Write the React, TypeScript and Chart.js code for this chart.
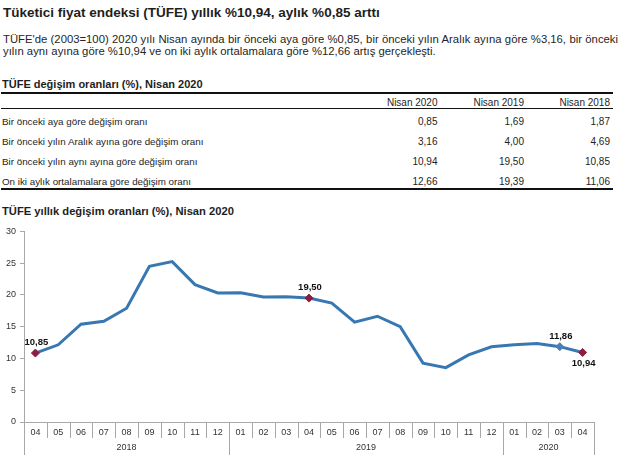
import React, { useEffect, useRef } from "react";
import { Chart, registerables } from "chart.js";

Chart.register(...registerables);

// ---------- DATA ----------
const pageTitle = "Tüketici fiyat endeksi (TÜFE) yıllık %10,94, aylık %0,85 arttı";
const paragraphLine1 =
  "TÜFE'de (2003=100) 2020 yılı Nisan ayında bir önceki aya göre %0,85, bir önceki yılın Aralık ayına göre %3,16, bir önceki";
const paragraphLine2 =
  "yılın aynı ayına göre %10,94 ve on iki aylık ortalamalara göre %12,66 artış gerçekleşti.";

const tableTitle = "TÜFE değişim oranları (%), Nisan 2020";
const tableColumns = ["Nisan 2020", "Nisan 2019", "Nisan 2018"];
const tableRowLabels = [
  "Bir önceki aya göre değişim oranı",
  "Bir önceki yılın Aralık ayına göre değişim oranı",
  "Bir önceki yılın aynı ayına göre değişim oranı",
  "On iki aylık ortalamalara göre değişim oranı",
];
const monthlyChange = ["0,85", "1,69", "1,87"];
const decemberChange = ["3,16", "4,00", "4,69"];
const annualChange = ["10,94", "19,50", "10,85"];
const averageChange = ["12,66", "19,39", "11,06"];
const tableValues = [monthlyChange, decemberChange, annualChange, averageChange];

const chartTitle = "TÜFE yıllık değişim oranları (%), Nisan 2020";
const months = [
  "04", "05", "06", "07", "08", "09", "10", "11", "12",
  "01", "02", "03", "04", "05", "06", "07", "08", "09", "10", "11", "12",
  "01", "02", "03", "04",
];
const years = ["2018", "2019", "2020"];
const annualRates = [
  10.85, 12.15, 15.39, 15.85, 17.9, 24.52, 25.24, 21.62, 20.3,
  20.35, 19.67, 19.71, 19.5, 18.71, 15.72, 16.65, 15.01, 9.26, 8.55, 10.56, 11.84,
  12.15, 12.37, 11.86, 10.94,
];
const yTicks = [0, 5, 10, 15, 20, 25, 30];
const redMarkIndices = [0, 12, 24];
const blueMarkIndices = [23];
const labelAbove = [0, 12, 23];
const labelBelow = [24];

// ---------- STYLE ----------
const FONT = "'Liberation Sans', Arial, Helvetica, sans-serif";
const LINE_COLOR = "#3778b3";
const RED_MARK = "#8c1d40";
const BLUE_MARK = "#4a80b8";
const AXIS_COLOR = "#a8a8a8";
const TEXT_COLOR = "#1e1e1e";

const fmt = (v: number) => v.toFixed(2).replace(".", ",");

const multiAxisPlugin = {
  id: "multiAxis",
  afterDraw(chart: any) {
    const { ctx, chartArea } = chart;
    const x = chart.scales.x;
    const bottom = chartArea.bottom;
    const n = months.length;
    const half = (x.getPixelForValue(1) - x.getPixelForValue(0)) / 2;
    ctx.save();
    ctx.strokeStyle = AXIS_COLOR;
    ctx.lineWidth = 1;
    const groupStarts: number[] = [];
    for (let i = 0; i <= n; i++) {
      const px = i < n ? x.getPixelForValue(i) - half : x.getPixelForValue(n - 1) + half;
      const isYear = i === 0 || i === n || months[i] === "01";
      if (i < n && isYear) groupStarts.push(i);
      const xx = Math.round(px) + 0.5;
      ctx.beginPath();
      ctx.moveTo(xx, bottom);
      ctx.lineTo(xx, bottom + (isYear ? 33 : 16));
      ctx.stroke();
    }
    ctx.fillStyle = "#333";
    ctx.font = `9px ${FONT}`;
    ctx.textAlign = "center";
    ctx.textBaseline = "middle";
    groupStarts.forEach((s, g) => {
      const e = g + 1 < groupStarts.length ? groupStarts[g + 1] - 1 : n - 1;
      const cx = (x.getPixelForValue(s) + x.getPixelForValue(e)) / 2;
      ctx.fillText(years[g], cx, bottom + 26);
    });
    ctx.restore();
  },
  afterDatasetsDraw(chart: any) {
    const { ctx } = chart;
    const meta = chart.getDatasetMeta(0);
    ctx.save();
    ctx.fillStyle = "#111";
    ctx.font = `bold 9.5px ${FONT}`;
    ctx.textAlign = "center";
    ctx.textBaseline = "middle";
    labelAbove.forEach((i) => {
      const p = meta.data[i];
      ctx.fillText(fmt(annualRates[i]), p.x + 1, p.y - 10.5);
    });
    labelBelow.forEach((i) => {
      const p = meta.data[i];
      ctx.fillText(fmt(annualRates[i]), p.x + 1, p.y + 10.5);
    });
    ctx.restore();
  },
};

function LineChart() {
  const ref = useRef<HTMLCanvasElement | null>(null);
  useEffect(() => {
    if (!ref.current) return;
    const n = annualRates.length;
    const radii = annualRates.map((_, i) =>
      redMarkIndices.includes(i) || blueMarkIndices.includes(i) ? 4 : 0
    );
    const colors = annualRates.map((_, i) =>
      redMarkIndices.includes(i) ? RED_MARK : BLUE_MARK
    );
    const chart = new Chart(ref.current, {
      type: "line",
      data: {
        labels: months,
        datasets: [
          {
            data: annualRates,
            borderColor: LINE_COLOR,
            borderWidth: 3,
            tension: 0,
            pointStyle: "rectRot",
            pointRadius: radii,
            pointBackgroundColor: colors,
            pointBorderColor: colors,
            pointBorderWidth: 1,
            pointHoverRadius: radii,
          },
        ],
      },
      options: {
        animation: false,
        responsive: false,
        events: [],
        layout: { padding: { top: 7.5, right: 46, left: 0, bottom: 0 } },
        plugins: { legend: { display: false }, tooltip: { enabled: false } },
        scales: {
          x: {
            type: "category",
            offset: true,
            grid: { display: false, drawTicks: false },
            border: { display: true, color: AXIS_COLOR, width: 1 },
            ticks: {
              autoSkip: false,
              maxRotation: 0,
              padding: 5.5,
              color: "#333",
              font: { size: 9, family: FONT },
            },
            afterFit: (s: any) => {
              s.height = 46;
            },
          },
          y: {
            min: 0,
            max: 30,
            afterBuildTicks: (s: any) => {
              s.ticks = yTicks.map((v) => ({ value: v }));
            },
            grid: { drawOnChartArea: false, drawTicks: true, tickLength: 4, color: AXIS_COLOR },
            border: { display: true, color: AXIS_COLOR, width: 1 },
            ticks: {
              padding: 4,
              color: "#333",
              font: { size: 9, family: FONT },
            },
            afterFit: (s: any) => {
              s.width = 24;
            },
          },
        },
      },
      plugins: [multiAxisPlugin],
    });
    return () => chart.destroy();
  }, []);
  return (
    <canvas
      ref={ref}
      width={640}
      height={246}
      style={{ position: "absolute", left: 0, top: 222, width: 640, height: 246 }}
    />
  );
}

const abs = (
  left: number,
  top: number,
  size: number,
  bold = false,
  extra: React.CSSProperties = {}
): React.CSSProperties => ({
  position: "absolute",
  left,
  top,
  fontFamily: FONT,
  fontSize: size,
  lineHeight: `${size}px`,
  fontWeight: bold ? "bold" : "normal",
  color: TEXT_COLOR,
  whiteSpace: "nowrap",
  margin: 0,
  ...extra,
});

const hline = (top: number, h: number): React.CSSProperties => ({
  position: "absolute",
  left: 1,
  width: 612,
  top,
  height: h,
  background: "#111",
});

export default function App() {
  const colRights = [437.5, 524, 610];
  const rowTops = [117.3, 137.3, 157.3, 176.8];
  return (
    <div
      style={{
        position: "absolute",
        left: 0,
        top: 0,
        width: 640,
        height: 468,
        background: "#fff",
        overflow: "hidden",
      }}
    >
      <div style={abs(3, 6.3, 13.5, true)}>{pageTitle}</div>
      <div
        style={abs(3, 33.5, 11.3, false, {
          width: 615,
          textAlign: "justify",
          textAlignLast: "justify",
          whiteSpace: "normal",
          color: "#252525",
        })}
      >
        {paragraphLine1}
      </div>
      <div style={abs(3, 45.5, 11.3, false, { color: "#252525" })}>{paragraphLine2}</div>

      <div style={abs(2, 79.4, 11, true)}>{tableTitle}</div>
      <div style={hline(92, 2)} />
      {tableColumns.map((c, j) => (
        <div
          key={c}
          style={abs(colRights[j] - 100, 97.5, 10, false, { width: 100, textAlign: "right" })}
        >
          {c}
        </div>
      ))}
      <div style={hline(108, 1)} />
      {tableRowLabels.map((r, i) => (
        <React.Fragment key={r}>
          <div style={abs(2, rowTops[i], 9.8)}>{r}</div>
          {tableValues[i].map((v, j) => (
            <div
              key={j}
              style={abs(colRights[j] - 100, rowTops[i], 10, false, {
                width: 100,
                textAlign: "right",
              })}
            >
              {v}
            </div>
          ))}
        </React.Fragment>
      ))}
      <div style={hline(187.5, 2)} />

      <div style={abs(2, 206.3, 11.2, true)}>{chartTitle}</div>
      <LineChart />
    </div>
  );
}
